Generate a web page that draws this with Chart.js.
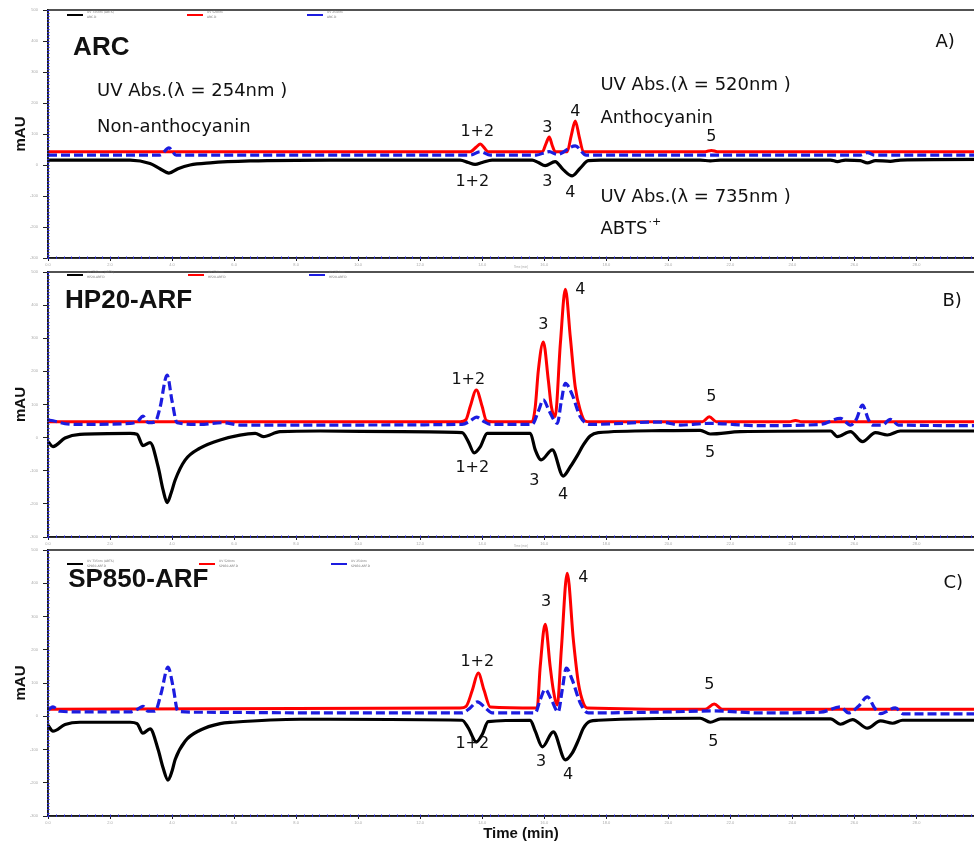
<!DOCTYPE html>
<html><head><meta charset="utf-8">
<script src="https://cdn.jsdelivr.net/npm/chart.js@4/dist/chart.umd.min.js"></script>
<style>
html,body{margin:0;padding:0;background:#fff;width:974px;height:845px;overflow:hidden;position:relative;}
.p{position:absolute;left:0;width:994px;}
</style></head><body>
<div class="p" style="top:0;height:270px"><canvas id="ca"></canvas></div>
<div class="p" style="top:262px;height:287px"><canvas id="cb"></canvas></div>
<div class="p" style="top:540px;height:305px"><canvas id="cc"></canvas></div>
<script>
// ---------- DATA (time in min, absorbance in mAU) ----------
const seriesNames = ['UV 735nm (ABTS)', 'UV 520nm', 'UV 254nm'];
const xTickStep = 2;
const yTicks = [-300, -200, -100, 0, 100, 200, 300, 400, 500];

// Panel A : ARC
const A_t735 = [0,2.65,3.29,3.61,3.90,4.19,4.58,5.23,6.52,9.10,13.29,13.55,13.77,14.00,14.32,15.61,15.81,16.03,16.35,16.61,16.90,17.16,17.42,17.81,21.03,21.35,21.68,25.23,25.45,25.71,26.19,26.42,26.68,27.16,27.48,30.5];
const A_v735 = [16,16,5,-12,-26,-12,0,7,13,16,16,8,2,8,16,16,8,-2,11,-15,-35,-10,14,16,16,13,16,16,11,16,14,7,14,12,16,18];
const A_t520 = [0,13.61,13.81,13.94,14.06,14.19,15.94,16.06,16.16,16.26,16.35,16.74,16.87,17.00,17.13,17.26,21.19,21.39,21.58,30.5];
const A_v520 = [43,43,58,68,56,43,43,70,90,62,43,43,95,142,90,43,43,47,43,43];
const A_t254 = [0,3.61,3.90,4.13,13.61,13.94,14.26,15.74,16.16,16.42,17.00,17.35,26.19,26.42,26.65,30.5];
const A_v254 = [32,32,55,32,32,43,32,32,43,34,62,32,32,40,32,32];

// Panel B : HP20-ARF
const B_t735 = [0,0.16,0.55,1.03,2.65,2.87,3.06,3.29,3.55,3.71,3.84,3.97,4.10,4.42,4.90,5.55,6.68,6.94,7.48,8.77,11.35,13.35,13.55,13.74,13.94,14.16,15.55,15.71,15.90,16.26,16.61,16.84,17.06,17.26,17.48,17.74,19.74,21.03,21.35,22.32,25.23,25.45,25.87,26.26,26.68,27.06,27.48,30.5];
const B_v735 = [-12,-27,-1,10,13,10,-24,-15,-88,-158,-196,-167,-128,-68,-32,-7,13,3,18,20,18,15,-12,-46,-27,13,13,-37,-67,-37,-116,-88,-55,-22,5,15,21,22,11,18,20,3,18,-12,15,8,20,20];
const B_t520 = [0,13.29,13.48,13.61,13.81,14.00,14.13,14.32,15.61,15.71,15.81,15.97,16.13,16.23,16.35,16.52,16.68,16.84,17.00,17.16,17.32,17.48,21.10,21.32,21.55,23.9,24.10,24.3,30.5];
const B_v520 = [48,48,55,93,144,93,52,48,48,93,204,289,174,93,63,285,448,303,152,83,50,48,48,63,48,48,52,48,48];
const B_t254 = [0,0.16,0.55,1.03,2.65,2.90,3.06,3.23,3.45,3.61,3.84,4.00,4.16,4.90,5.65,6.19,9.10,13.35,13.61,13.81,14.03,14.26,15.61,15.81,15.97,16.16,16.42,16.55,16.68,16.90,17.16,17.48,19.74,20.39,21.32,22.97,24.90,25.55,25.87,26.06,26.26,26.45,26.58,26.90,27.16,27.42,30.5];
const B_v254 = [53,51,42,40,43,50,65,45,47,90,189,110,45,40,45,38,38,40,50,62,50,40,40,80,114,80,43,110,164,130,63,40,47,38,43,36,40,58,38,55,98,55,38,38,55,38,36];

// Panel C : SP850-ARF
const C_t735 = [0,0.16,0.55,1.03,2.65,2.87,3.06,3.29,3.55,3.71,3.87,4.00,4.10,4.42,4.90,5.55,5.97,8.13,9.10,13.35,13.55,13.81,14.00,14.19,15.55,15.71,15.94,16.29,16.68,16.90,17.10,17.26,17.48,17.74,21.03,21.35,21.68,25.23,25.55,25.94,26.42,26.84,27.23,27.55,30.5];
const C_v735 = [-27,-45,-25,-18,-18,-22,-51,-38,-100,-155,-192,-165,-130,-75,-42,-22,-18,-9,-9,-12,-35,-77,-55,-16,-12,-45,-92,-47,-131,-111,-72,-36,-15,-12,-6,-18,-8,-8,-24,-10,-36,-14,-21,-12,-12];
const C_t520 = [0,13.29,13.48,13.68,13.87,14.06,14.26,15.77,15.87,16.03,16.19,16.29,16.42,16.55,16.74,16.94,17.10,17.26,17.39,21.19,21.48,21.74,30.5];
const C_v520 = [21,25,30,78,130,78,28,25,150,277,150,80,34,200,430,228,100,40,25,21,37,21,21];
const C_t254 = [0,0.16,0.39,1.03,2.65,2.90,3.06,3.23,3.45,3.65,3.87,4.03,4.19,4.90,9.10,13.35,13.61,13.84,14.10,14.32,15.71,15.87,16.03,16.23,16.45,16.58,16.71,16.90,17.16,17.42,19.97,21.42,22.97,24.90,25.55,25.81,26.13,26.42,26.65,26.84,27.32,27.58,30.5];
const C_v254 = [18,28,15,13,13,22,30,15,15,70,148,90,15,12,10,10,25,43,25,10,10,50,81,50,13,80,145,110,40,10,13,16,10,12,28,10,30,58,25,8,25,7,7];

// ---------- helpers ----------
const pts = (ts, vs) => ts.map((t, i) => ({x: t, y: vs[i]}));
const COLORS = ['#000000', '#ff0000', '#1c1ce0'];

const frameTicks = {
  id: 'frameTicks',
  afterDraw(chart, args, o) {
    const {ctx, chartArea: a, scales: {x, y}} = chart;
    ctx.save();
    ctx.strokeStyle = '#1a1a1a'; ctx.lineWidth = 1.5; ctx.setLineDash([]);
    ctx.strokeRect(a.left, a.top, a.right - a.left, a.bottom - a.top);
    ctx.strokeStyle = '#2a2ad8'; ctx.lineWidth = 1;
    ctx.beginPath();
    for (let v = y.min; v <= y.max + 1e-6; v += 10) {
      const py = Math.round(y.getPixelForValue(v)) + 0.5;
      ctx.moveTo(a.left - 1, py); ctx.lineTo(a.left + 1.5, py);
    }
    for (let t = x.min; t <= x.max + 1e-6; t += 0.25) {
      const px = Math.round(x.getPixelForValue(t)) + 0.5;
      ctx.moveTo(px, a.bottom + 1); ctx.lineTo(px, a.bottom - 1.5);
    }
    ctx.stroke();
    ctx.restore();
  }
};

const inlineLegend = {
  id: 'inlineLegend',
  afterDraw(chart, args, o) {
    const {ctx, chartArea: a} = chart;
    ctx.save();
    chart.data.datasets.forEach((ds, i) => {
      const x0 = a.left + o.x0 + i * o.gap, y0 = a.top + o.dy;
      ctx.strokeStyle = ds.borderColor; ctx.lineWidth = 2; ctx.setLineDash([]);
      ctx.beginPath(); ctx.moveTo(x0, y0); ctx.lineTo(x0 + 16, y0); ctx.stroke();
      ctx.fillStyle = '#777'; ctx.font = '3px "DejaVu Sans"'; ctx.textBaseline = 'middle'; ctx.textAlign = 'left';
      ctx.fillText(ds.label, x0 + 20, y0 - 2.5);
      ctx.fillText(o.file, x0 + 20, y0 + 2);
    });
    ctx.restore();
  }
};

const textLabels = {
  id: 'textLabels',
  afterDraw(chart, args, o) {
    const {ctx, scales: {x, y}} = chart;
    ctx.save();
    ctx.fillStyle = '#111'; ctx.textBaseline = 'middle';
    o.items.forEach(it => {
      ctx.font = it.font || o.font;
      ctx.textAlign = it.align || 'left';
      const px = x.getPixelForValue(it.t), py = y.getPixelForValue(it.v);
      ctx.fillText(it.text, px, py);
      if (it.sup) {
        const w = ctx.measureText(it.text).width;
        ctx.font = '11px "DejaVu Sans"'; ctx.textAlign = 'left';
        ctx.fillText(it.sup, px + w + 1, py - 7);
      }
    });
    ctx.restore();
  }
};

const ANN = '18px "DejaVu Sans"';
const PK = '16px "DejaVu Sans"';
const TTL = 'bold 26px "Liberation Sans"';

function makePanel(id, t735, v735, t520, v520, t254, v254, cfg) {
  const datasets = [
    {label: seriesNames[0], data: pts(t735, v735), borderColor: COLORS[0], borderWidth: 3.2, order: 3},
    {label: seriesNames[1], data: pts(t520, v520), borderColor: COLORS[1], borderWidth: 3, order: 2},
    {label: seriesNames[2], data: pts(t254, v254), borderColor: COLORS[2], borderWidth: 3.2, borderDash: [9, 4], order: 1}
  ];
  datasets.forEach(d => { d.pointRadius = 0; d.cubicInterpolationMode = 'monotone'; d.fill = false; });
  return new Chart(document.getElementById(id), {
    type: 'line',
    data: {datasets},
    plugins: [frameTicks, inlineLegend, textLabels],
    options: {
      responsive: true, maintainAspectRatio: false, animation: false, devicePixelRatio: 1,
      layout: {padding: {top: 10, left: 0, right: 0, bottom: 0}},
      plugins: {
        legend: {display: false}, tooltip: {enabled: false},
        inlineLegend: cfg.legend,
        textLabels: {font: ANN, items: cfg.labels}
      },
      scales: {
        x: {
          type: 'linear', min: 0, max: 30.5,
          ticks: {stepSize: xTickStep, includeBounds: false, color: '#aaa', font: {size: 4}, padding: 1, maxRotation: 0,
                  callback: v => v.toFixed(1)},
          grid: {drawOnChartArea: false, drawTicks: true, tickLength: 3, color: '#222'},
          border: {display: true, color: '#1a1a1a', width: 1.5},
          title: cfg.xTitle,
          afterFit: s => { s.height = cfg.xHeight; }
        },
        y: {
          type: 'linear', min: -300, max: 500,
          afterBuildTicks: s => { s.ticks = yTicks.map(v => ({value: v})); },
          ticks: {color: '#aaa', font: {size: 4}, padding: 5, callback: v => String(v)},
          grid: {drawOnChartArea: false, drawTicks: true, tickLength: 5, color: '#222'},
          border: {display: true, color: '#1a1a1a', width: 1.5},
          title: {display: true, text: 'mAU', color: '#111', font: {family: 'Liberation Sans', weight: 'bold', size: 15}, padding: {top: 12, bottom: 0}},
          afterFit: s => { s.width = 48; }
        }
      }
    }
  });
}

const tinyTitle = {display: true, text: 'Time (min)', color: '#aaa', font: {size: 3}, padding: {top: 0, bottom: 1}};

makePanel('ca', A_t735, A_v735, A_t520, A_v520, A_t254, A_v254, {
  xHeight: 12, xTitle: tinyTitle,
  legend: {x0: 19, gap: 120, dy: 5, file: 'ARC.D'},
  labels: [
    {t: 0.81, v: 377, text: 'ARC', font: TTL},
    {t: 1.58, v: 239, text: 'UV Abs.(λ = 254nm )'},
    {t: 1.58, v: 123, text: 'Non-anthocyanin'},
    {t: 17.81, v: 258, text: 'UV Abs.(λ = 520nm )'},
    {t: 17.81, v: 152, text: 'Anthocyanin'},
    {t: 17.81, v: -103, text: 'UV Abs.(λ = 735nm )'},
    {t: 17.81, v: -206, text: 'ABTS', sup: '·+'},
    {t: 28.61, v: 397, text: 'A)'},
    {t: 13.84, v: 106, text: '1+2', font: PK, align: 'center'},
    {t: 16.10, v: 119, text: '3', font: PK, align: 'center'},
    {t: 17.00, v: 171, text: '4', font: PK, align: 'center'},
    {t: 21.39, v: 90, text: '5', font: PK, align: 'center'},
    {t: 13.68, v: -55, text: '1+2', font: PK, align: 'center'},
    {t: 16.10, v: -55, text: '3', font: PK, align: 'center'},
    {t: 16.84, v: -90, text: '4', font: PK, align: 'center'}
  ]
});

makePanel('cb', B_t735, B_v735, B_t520, B_v520, B_t254, B_v254, {
  xHeight: 12, xTitle: tinyTitle,
  legend: {x0: 19, gap: 121, dy: 3, file: 'HP20-ARF.D'},
  labels: [
    {t: 0.55, v: 413, text: 'HP20-ARF', font: TTL},
    {t: 28.84, v: 410, text: 'B)'},
    {t: 13.55, v: 174, text: '1+2', font: PK, align: 'center'},
    {t: 15.97, v: 340, text: '3', font: PK, align: 'center'},
    {t: 17.16, v: 446, text: '4', font: PK, align: 'center'},
    {t: 21.39, v: 123, text: '5', font: PK, align: 'center'},
    {t: 13.68, v: -92, text: '1+2', font: PK, align: 'center'},
    {t: 15.68, v: -131, text: '3', font: PK, align: 'center'},
    {t: 16.61, v: -173, text: '4', font: PK, align: 'center'},
    {t: 21.35, v: -47, text: '5', font: PK, align: 'center'}
  ]
});

makePanel('cc', C_t735, C_v735, C_t520, C_v520, C_t254, C_v254, {
  xHeight: 29,
  xTitle: {display: true, text: 'Time (min)', color: '#111', font: {family: 'Liberation Sans', weight: 'bold', size: 15}, padding: {top: 0, bottom: 2}},
  legend: {x0: 19, gap: 132, dy: 14, file: 'SP850-ARF.D'},
  labels: [
    {t: 0.65, v: 410, text: 'SP850-ARF', font: TTL},
    {t: 28.87, v: 401, text: 'C)'},
    {t: 13.84, v: 163, text: '1+2', font: PK, align: 'center'},
    {t: 16.06, v: 344, text: '3', font: PK, align: 'center'},
    {t: 17.26, v: 417, text: '4', font: PK, align: 'center'},
    {t: 21.32, v: 94, text: '5', font: PK, align: 'center'},
    {t: 13.68, v: -83, text: '1+2', font: PK, align: 'center'},
    {t: 15.90, v: -137, text: '3', font: PK, align: 'center'},
    {t: 16.77, v: -176, text: '4', font: PK, align: 'center'},
    {t: 21.45, v: -77, text: '5', font: PK, align: 'center'}
  ]
});
</script>
</body></html>
